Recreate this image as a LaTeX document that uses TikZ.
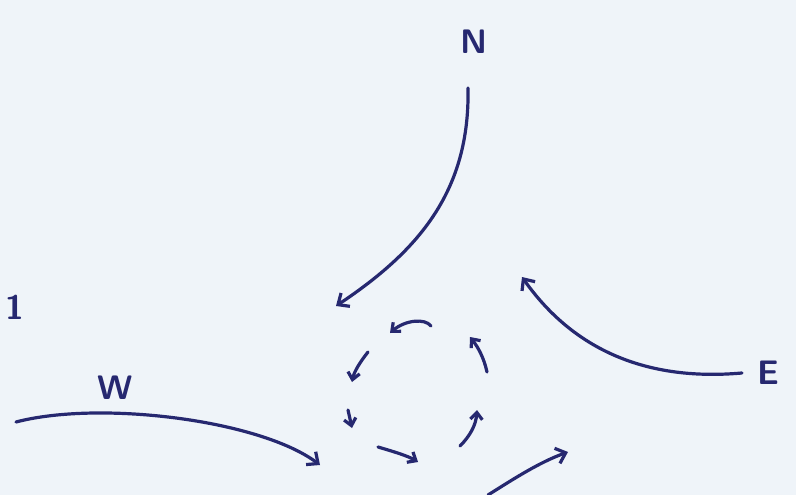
\documentclass[tikz,border=0pt]{standalone}
\usepackage{xcolor}
\usepackage{tikz}
\usetikzlibrary{arrows.meta, positioning}

\definecolor{paper}{RGB}{239,244,249}
\definecolor{ink}{RGB}{38,40,112}

\tikzset{
  sketch/.style={ink, line width=3.2pt, line cap=round, line join=round},
  flow/.style={sketch, -{Straight Barb[length=9pt, width=16pt, line width=3.2pt]}},
  spin/.style={sketch, -{Straight Barb[length=7pt, width=12pt, line width=3.2pt]}},
  letter/.style={ink, font=\fontsize{34}{34}\sffamily\bfseries}
}

\begin{document}
\begin{tikzpicture}[x=1pt, y=-1pt]
	% paper
	\fill[paper] (0,0) rectangle (796,495);
	\useasboundingbox (0,0) rectangle (796,495);
	% compass letters
	\node[letter] (north) at (474,42) {N};
	\node[letter] (west) at (115,388) {W};
	\node[letter] (east) at (768,373) {E};
	\node[letter] (one) at (15,307) {1};
	% approach roads
	\draw[flow] (468,88) .. controls (470,190) and (420,250) .. (336,306);
	\draw[flow] (742,373) .. controls (640,382) and (570,345) .. (522,277);
	\draw[flow] (16,422) .. controls (100,400) and (260,420) .. (320,465);
	\draw[flow] (488,495) .. controls (515,478) and (540,462) .. (568,452);
	% roundabout
	\draw[spin] (431,326) .. controls (425,318) and (405,320) .. (390,333);
	\draw[spin] (368,352) .. controls (360,362) and (354,372) .. (352,382);
	\draw[spin] (348,410) -- (352,428);
	\draw[spin] (378,447) .. controls (395,452) and (408,456) .. (418,462);
	\draw[spin] (460,446) .. controls (470,436) and (476,425) .. (477,410);
	\draw[spin] (487,372) .. controls (484,358) and (478,347) .. (470,337);
\end{tikzpicture}
\end{document}
